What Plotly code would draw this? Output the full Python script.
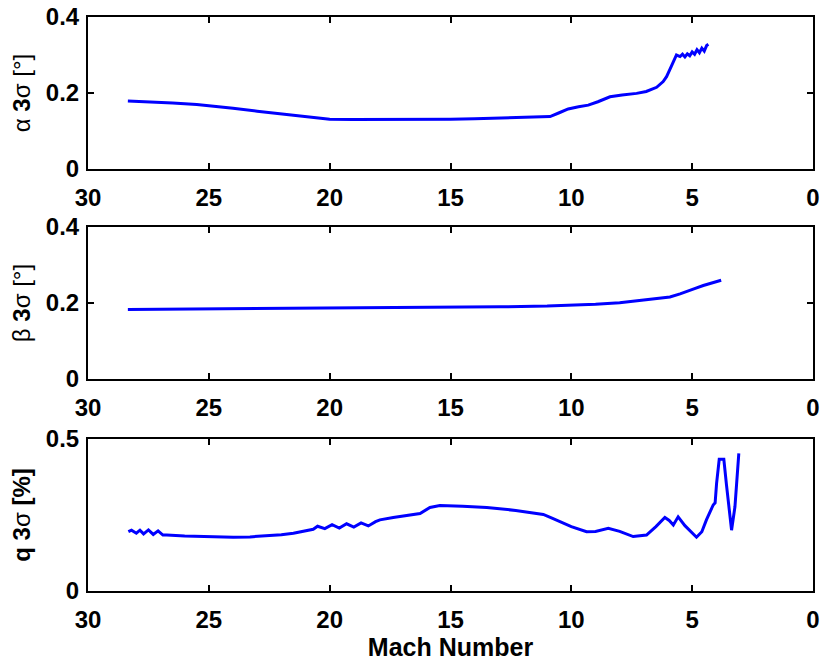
import plotly.graph_objects as go

# Angle-of-attack 3-sigma dispersion vs Mach
alpha_mach = [28.35, 27.5, 26.5, 25.5, 25.0, 24.0, 23.0, 22.0, 21.0, 20.5, 20.0, 19.0, 18.0,
              17.0, 16.0, 15.0, 14.0, 13.0, 12.0, 11.2, 10.88, 10.5, 10.13, 9.7, 9.3, 8.9,
              8.4, 7.9, 7.3, 6.9, 6.47, 6.2, 6.06, 5.85, 5.65, 5.5, 5.4, 5.3, 5.2, 5.1, 5.0,
              4.9, 4.8, 4.7, 4.6, 4.5, 4.4, 4.33]
alpha_sig = [0.179, 0.177, 0.174, 0.170, 0.167, 0.160, 0.152, 0.145, 0.137, 0.133, 0.131, 0.130,
             0.130, 0.131, 0.131, 0.131, 0.132, 0.134, 0.135, 0.136, 0.138, 0.148, 0.158, 0.164,
             0.168, 0.177, 0.190, 0.195, 0.199, 0.204, 0.215, 0.230, 0.243, 0.272, 0.300, 0.296,
             0.302, 0.295, 0.303, 0.298, 0.308, 0.302, 0.314, 0.306, 0.318, 0.310, 0.325, 0.328]

# Sideslip 3-sigma dispersion vs Mach
beta_mach = [28.35, 26.0, 24.0, 22.0, 20.0, 18.0, 16.0, 14.0, 12.95, 11.0, 10.0, 9.0, 8.0,
             7.44, 6.5, 5.92, 5.5, 5.23, 4.9, 4.54, 4.2, 3.8]
beta_sig = [0.183, 0.184, 0.184, 0.185, 0.186, 0.187, 0.188, 0.189, 0.190, 0.192, 0.194, 0.197,
            0.201, 0.205, 0.211, 0.216, 0.224, 0.231, 0.238, 0.246, 0.252, 0.260]

# Dynamic pressure 3-sigma dispersion vs Mach
q_mach = [28.33, 28.2, 28.0, 27.85, 27.7, 27.5, 27.3, 27.1, 26.9, 26.74, 26.0, 25.09, 24.5,
          23.99, 23.3, 22.6, 22.0, 21.5, 21.0, 20.68, 20.5, 20.2, 19.9, 19.6, 19.3, 19.0, 18.7,
          18.4, 18.1, 17.92, 17.37, 16.54, 16.26, 15.85, 15.44, 14.5, 13.5, 12.3, 11.16, 10.8,
          10.47, 10.0, 9.37, 9.0, 8.47, 8.0, 7.44, 6.89, 6.5, 6.13, 5.95, 5.78, 5.58, 5.3, 4.82,
          4.6, 4.41, 4.13, 4.05, 3.99, 3.88, 3.69, 3.58, 3.37, 3.23, 3.07]
q_sig = [0.195, 0.200, 0.190, 0.200, 0.188, 0.201, 0.186, 0.198, 0.184, 0.184, 0.181, 0.179,
         0.178, 0.177, 0.178, 0.181, 0.185, 0.190, 0.197, 0.203, 0.213, 0.205, 0.218, 0.207,
         0.221, 0.210, 0.224, 0.214, 0.228, 0.234, 0.242, 0.250, 0.255, 0.275, 0.281, 0.279,
         0.275, 0.265, 0.252, 0.240, 0.228, 0.212, 0.195, 0.196, 0.206, 0.196, 0.179, 0.184,
         0.212, 0.242, 0.232, 0.217, 0.244, 0.215, 0.177, 0.195, 0.234, 0.283, 0.290, 0.354,
         0.433, 0.433, 0.349, 0.200, 0.277, 0.453]

x_ticks = [30, 25, 20, 15, 10, 5, 0]
y_labels = ["α <b>3</b>σ [°]", "β <b>3</b>σ [°]", "<b>q 3</b>σ <b>[%]</b>"]
y_ranges = [[0, 0.4], [0, 0.4], [0, 0.5]]
y_ticks = [[0, 0.2, 0.4], [0, 0.2, 0.4], [0, 0.5]]
domains = [[0.7352, 1.0], [0.3693, 0.6341], [0.0, 0.2648]]

series = [(alpha_mach, alpha_sig), (beta_mach, beta_sig), (q_mach, q_sig)]

fig = go.Figure()
family = "Liberation Sans, Arial, sans-serif"
tick_font = dict(family=family, size=24, color="black")
label_font = dict(family=family, size=24, color="black")

for i, (mx, sy) in enumerate(series):
    n = "" if i == 0 else str(i + 1)
    fig.add_trace(go.Scatter(x=mx, y=sy, mode="lines",
                             line=dict(color="#0000ff", width=3),
                             xaxis="x" + n, yaxis="y" + n, showlegend=False))
    fig.layout["xaxis" + n] = dict(
        range=[30, 0], tickvals=x_ticks, ticktext=["<b>%d</b>" % t for t in x_ticks],
        ticks="inside", ticklen=6, tickwidth=2, tickcolor="black",
        showline=True, linecolor="black", linewidth=2, mirror="ticks",
        showgrid=False, zeroline=False, anchor="y" + n, domain=[0, 1],
        tickfont=tick_font, ticklabelstandoff=6, automargin=False,
    )
    fig.layout["yaxis" + n] = dict(
        range=y_ranges[i], tickvals=y_ticks[i],
        ticktext=["<b>%g</b>" % t for t in y_ticks[i]],
        ticks="inside", ticklen=6, tickwidth=2, tickcolor="black",
        showline=True, linecolor="black", linewidth=2, mirror="ticks",
        showgrid=False, zeroline=False, anchor="x" + n, domain=domains[i],
        tickfont=tick_font, ticklabelstandoff=2, automargin=False,
        title=dict(text=y_labels[i], font=label_font, standoff=8),
    )

fig.layout["xaxis3"]["title"] = dict(text="<b>Mach Number</b>",
                                     font=dict(family=family, size=25, color="black"),
                                     standoff=0)

fig.update_layout(
    width=822, height=661,
    margin=dict(l=88, r=9, t=17, b=70),
    paper_bgcolor="white", plot_bgcolor="white",
)

fig.write_html("out.html")
